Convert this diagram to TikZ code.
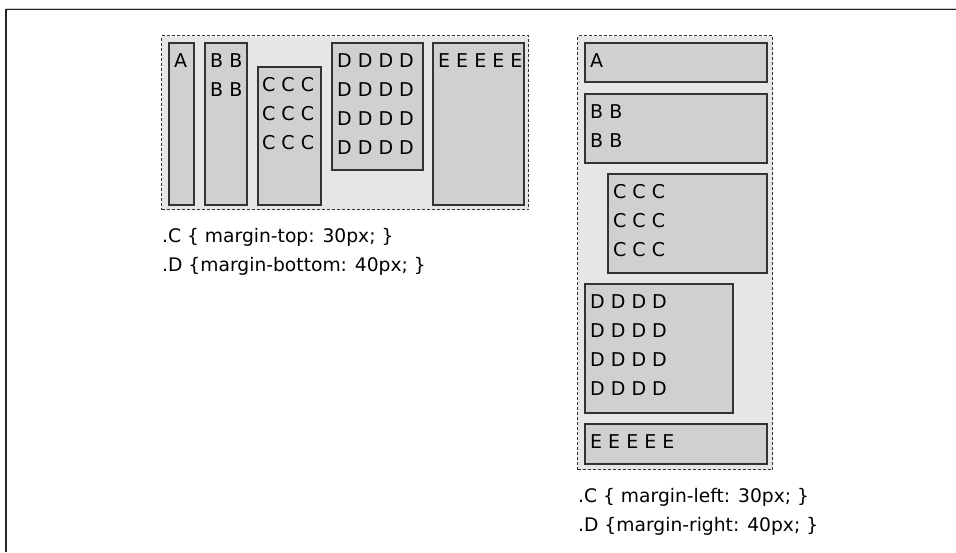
\documentclass[tikz,border=0pt]{standalone}
\usepackage{fontspec}
\setmainfont{DejaVu Sans}
\usetikzlibrary{positioning}
\definecolor{wrapgray}{HTML}{E6E6E6}
\definecolor{boxgray}{HTML}{D0D0D0}
\definecolor{edgegray}{HTML}{333333}
\begin{document}
\begin{tikzpicture}[x=1pt, y=-1pt,
  wrap/.style={draw=edgegray, fill=wrapgray, line width=1pt, dash pattern=on 3pt off 2pt, anchor=north west, inner sep=0pt},
  box/.style={draw=edgegray, fill=boxgray, line width=1.8pt, anchor=north west, inner sep=0pt},
  txt/.style={inner sep=0pt, align=left, font=\fontsize{19}{29}\selectfont},
  captxt/.style={anchor=base west, inner sep=0pt, font=\fontsize{18.7}{29}\selectfont}]
  \useasboundingbox[fill=white] (0,0) rectangle (956,552);
  \draw[black!20, line width=1pt] (6,8) -- (956,8);
  \draw[black!85, line width=1.5pt] (6,552) -- (6,9.5) -- (956,9.5);

  \node[wrap, minimum width=367pt, minimum height=174pt] (lwrap) at (161,35) {};
  \node[box, minimum width=25pt, minimum height=162pt] (lA) at (168,42) {};
  \node[box, minimum width=42pt, minimum height=162pt] (lB) at (204,42) {};
  \node[box, minimum width=63pt, minimum height=138pt] (lC) at (257,66) {};
  \node[box, minimum width=91pt, minimum height=127pt] (lD) at (331,42) {};
  \node[box, minimum width=91pt, minimum height=162pt] (lE) at (432,42) {};
  \node[txt, below right=11pt and 6pt of lA.north west] (lAt) {A};
  \node[txt, below right=11pt and 6pt of lB.north west] (lBt) {B B\\B B};
  \node[txt, below right=11pt and 5pt of lC.north west] (lCt) {C C C\\C C C\\C C C};
  \node[txt, below right=11pt and 6pt of lD.north west] (lDt) {D D D D\\D D D D\\D D D D\\D D D D};
  \node[txt, below right=11pt and 6pt of lE.north west] (lEt) {E E E E E};
  \node[captxt] (lcap1) at (162,242) {.C \{ margin-top: 30px; \}};
  \node[captxt] (lcap2) at (162,271) {.D \{margin-bottom: 40px; \}};

  \node[wrap, minimum width=195pt, minimum height=434pt] (rwrap) at (577,35) {};
  \node[box, minimum width=182pt, minimum height=39pt] (rA) at (584,42) {};
  \node[box, minimum width=182pt, minimum height=69pt] (rB) at (584,93) {};
  \node[box, minimum width=159pt, minimum height=99pt] (rC) at (607,173) {};
  \node[box, minimum width=148pt, minimum height=129pt] (rD) at (584,283) {};
  \node[box, minimum width=182pt, minimum height=40pt] (rE) at (584,423) {};
  \node[txt, below right=11pt and 6pt of rA.north west] (rAt) {A};
  \node[txt, below right=11pt and 6pt of rB.north west] (rBt) {B B\\B B};
  \node[txt, below right=11pt and 6pt of rC.north west] (rCt) {C C C\\C C C\\C C C};
  \node[txt, below right=11pt and 6pt of rD.north west] (rDt) {D D D D\\D D D D\\D D D D\\D D D D};
  \node[txt, below right=11pt and 6pt of rE.north west] (rEt) {E E E E E};
  \node[captxt] (rcap1) at (578,502) {.C \{ margin-left: 30px; \}};
  \node[captxt] (rcap2) at (578,531) {.D \{margin-right: 40px; \}};
\end{tikzpicture}
\end{document}
